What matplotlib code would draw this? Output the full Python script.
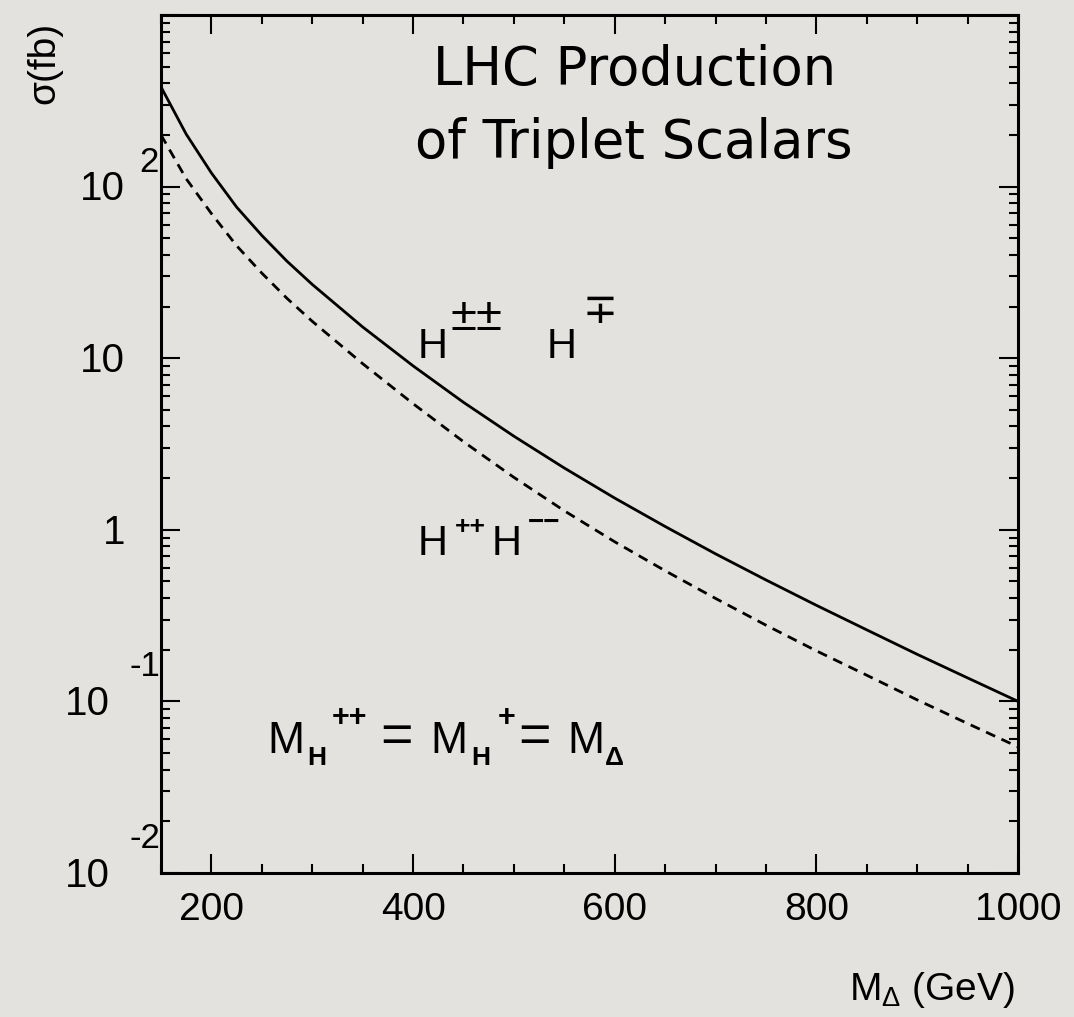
import numpy as np
import matplotlib.pyplot as plt
from matplotlib.ticker import FixedLocator, NullFormatter, LogLocator

plt.rcParams['font.family'] = ['Liberation Sans', 'DejaVu Sans']
plt.rcParams['mathtext.fontset'] = 'custom'
plt.rcParams['mathtext.rm'] = 'Liberation Sans'
plt.rcParams['mathtext.it'] = 'Liberation Sans'
plt.rcParams['mathtext.bf'] = 'Liberation Sans:bold'

# values (M in GeV, sigma in fb)
mass = [150, 175, 200, 225, 250, 275, 300, 350, 400, 450, 500, 550, 600, 650,
        700, 750, 800, 850, 900, 950, 1000]
# H±±H∓ (solid)
sigma_pm = [381, 202, 120, 75.9, 51.9, 36.7, 26.9, 15.2, 9.02, 5.53, 3.51, 2.29,
            1.53, 1.045, 0.724, 0.510, 0.363, 0.261, 0.188, 0.137, 0.100]
# H++H-- (dashed)
sigma_pp = [200, 111, 69.6, 45.2, 31.3, 22.3, 16.4, 9.29, 5.43, 3.26, 2.02, 1.29,
            0.851, 0.577, 0.398, 0.278, 0.197, 0.142, 0.102, 0.0743, 0.0543]

xticks = [200, 400, 600, 800, 1000]
ydecades = [0.01, 0.1, 1, 10, 100]
ylabels_base = ['10', '10', '1', '10', '10']
ylabels_exp = ['-2', '-1', '', '', '2']

bg = '#e4e2de'
fig = plt.figure(figsize=(10.74, 10.17), dpi=100, facecolor=bg)
ax = fig.add_axes([0.1499, 0.1416, 0.798, 0.8437])
ax.set_facecolor(bg)

ax.plot(mass, sigma_pm, color='black', lw=2.0)
ax.plot(mass, sigma_pp, color='black', lw=2.0, ls=(0, (3.6, 2.5)))

ax.set_yscale('log')
ax.set_xlim(150, 1000)
ax.set_ylim(0.01, 1000)

for s in ax.spines.values():
    s.set_linewidth(2.2)

ax.xaxis.set_major_locator(FixedLocator(xticks))
ax.xaxis.set_minor_locator(FixedLocator(np.arange(150, 1001, 50)))
ax.yaxis.set_major_locator(LogLocator(base=10, numticks=10))
ax.yaxis.set_minor_locator(LogLocator(base=10, subs=np.arange(2, 10), numticks=20))
ax.yaxis.set_major_formatter(NullFormatter())
ax.yaxis.set_minor_formatter(NullFormatter())
ax.tick_params(which='both', direction='in', top=True, right=True, width=1.5)
ax.tick_params(which='major', length=13.5)
ax.tick_params(which='minor', length=6.5)
ax.tick_params(axis='x', which='major', labelsize=28, pad=14)

# y tick labels drawn as "10" with a separate raised exponent
for val, base, ex in zip(ydecades, ylabels_base, ylabels_exp):
    dx = -26 if ex in ('', '2') else -37
    ax.annotate(base, xy=(0, val), xycoords=('axes fraction', 'data'),
                xytext=(dx, -2), textcoords='offset points',
                ha='right', va='center', fontsize=29)
    if ex:
        ex_dx = -16 if ex == '2' else -23
        ex_dy = 17 if ex == '2' else 25
        ax.annotate(ex, xy=(0, val), xycoords=('axes fraction', 'data'),
                    xytext=(ex_dx, ex_dy), textcoords='offset points',
                    ha='left', va='center', fontsize=25)

# title inside the frame
ax.text(0.552, 0.918, 'LHC Production', transform=ax.transAxes, ha='center',
        va='baseline', fontsize=38, family='DejaVu Sans')
ax.text(0.552, 0.833, 'of Triplet Scalars', transform=ax.transAxes, ha='center',
        va='baseline', fontsize=38, family='DejaVu Sans')

tr = ax.transAxes
# curve labels
ax.text(0.299, 0.600, 'H', transform=tr, fontsize=30, va='baseline')
ax.text(0.338, 0.633, '±±', transform=tr, fontsize=34, va='baseline')
ax.text(0.450, 0.600, 'H', transform=tr, fontsize=30, va='baseline')
ax.text(0.492, 0.641, '∓', transform=tr, fontsize=30, va='baseline', family='DejaVu Sans')

ax.text(0.299, 0.371, 'H', transform=tr, fontsize=30, va='baseline')
ax.text(0.343, 0.403, '++', transform=tr, fontsize=19, va='center', weight='bold')
ax.text(0.386, 0.371, 'H', transform=tr, fontsize=30, va='baseline')
ax.text(0.428, 0.408, '−−', transform=tr, fontsize=20, va='center', weight='bold')

# mass relation
ax.text(0.124, 0.140, 'M', transform=tr, fontsize=32, va='baseline')
ax.text(0.1705, 0.126, 'H', transform=tr, fontsize=19, va='baseline', weight='bold')
ax.text(0.1995, 0.181, '++', transform=tr, fontsize=22, va='center', weight='bold')
ax.text(0.256, 0.157, '=', transform=tr, fontsize=40, va='center')
ax.text(0.314, 0.140, 'M', transform=tr, fontsize=32, va='baseline')
ax.text(0.362, 0.126, 'H', transform=tr, fontsize=19, va='baseline', weight='bold')
ax.text(0.393, 0.181, '+', transform=tr, fontsize=22, va='center', weight='bold')
ax.text(0.417, 0.157, '=', transform=tr, fontsize=40, va='center')
ax.text(0.474, 0.140, 'M', transform=tr, fontsize=32, va='baseline')
ax.text(0.518, 0.126, 'Δ', transform=tr, fontsize=19, va='baseline', weight='bold')

fig.text(0.041, 0.938, 'σ(fb)', rotation=90, ha='center', va='center', fontsize=28)
fig.text(0.945, 0.017, r'$\mathregular{M_{\Delta}}$ (GeV)', ha='right', va='baseline', fontsize=28)

fig.savefig('out.png', dpi=100, facecolor=bg)
